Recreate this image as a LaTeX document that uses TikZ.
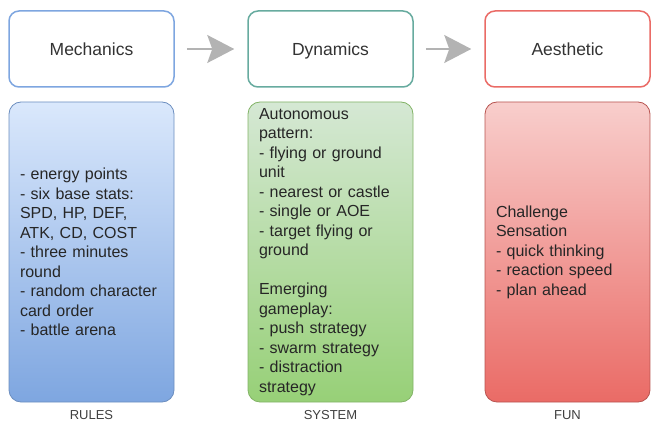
\documentclass[tikz,border=0pt]{standalone}
\usepackage{fontspec}
\setmainfont{Liberation Sans}
\usepackage{xcolor}
\usepackage{tikz}
\usetikzlibrary{arrows.meta,positioning}

\definecolor{mechline}{HTML}{7EA6E0}
\definecolor{dynline}{HTML}{67AB9F}
\definecolor{aesline}{HTML}{EA6B66}
\definecolor{flowgray}{HTML}{B3B3B3}

\begin{document}
\begin{tikzpicture}[x=1pt,y=-1pt,
  titlebox/.style={draw,line width=1.5pt,rounded corners=10pt,fill=white,
    minimum width=165pt,minimum height=76pt,text height=12.5pt,text depth=0pt,
    font=\fontsize{17.5}{21}\selectfont,text=black!80},
  listbox/.style={draw,line width=0.8pt,rounded corners=12pt,minimum width=165pt,
    minimum height=300pt,text width=143pt,inner xsep=11pt,inner ysep=2pt,align=left,
    font=\fontsize{16}{19.5}\selectfont,text=black!85},
  boxlabel/.style={below=8pt of #1,inner sep=0pt,font=\fontsize{13}{15}\selectfont,text=black!75},
  flow/.style={line width=1.5pt,draw=flowgray,
    -{Stealth[length=27pt,width=28pt,inset=5pt,fill=flowgray]},shorten <=12pt,shorten >=13pt}]
  \useasboundingbox (0,0) rectangle (651,422);

  % top row
  \node[titlebox,draw=mechline] (mech) at (91.5,49) {Mechanics};
  \node[titlebox,draw=dynline] (dyn) at (330.5,49) {Dynamics};
  \node[titlebox,draw=aesline] (aes) at (567.5,49) {Aesthetic};

  \draw[flow] (mech.east) -- (dyn.west);
  \draw[flow] (dyn.east) -- (aes.west);

  % lists
  \node[listbox,draw={rgb,255:red,108;green,142;blue,191},top color={rgb,255:red,218;green,232;blue,252},
    bottom color={rgb,255:red,126;green,166;blue,224}] (rules) at (91.5,252)
    {- energy points\\- six base stats:\\SPD, HP, DEF,\\ATK, CD, COST\\- three minutes\\round\\
     - random character\\card order\\- battle arena};
  \node[listbox,draw={rgb,255:red,130;green,179;blue,102},top color={rgb,255:red,213;green,232;blue,212},
    bottom color={rgb,255:red,151;green,208;blue,119}] (system) at (330.5,252)
    {Autonomous\\pattern:\\- flying or ground\\unit\\- nearest or castle\\- single or AOE\\
     - target flying or\\ground\\[19.5pt]Emerging\\gameplay:\\- push strategy\\
     - swarm strategy\\- distraction\\strategy};
  \node[listbox,draw={rgb,255:red,184;green,84;blue,80},top color={rgb,255:red,248;green,206;blue,204},
    bottom color={rgb,255:red,234;green,107;blue,102}] (fun) at (567.5,252)
    {Challenge\\Sensation\\- quick thinking\\- reaction speed\\- plan ahead};

  \node[boxlabel=rules] (rulestag) {RULES};
  \node[boxlabel=system] (systemtag) {SYSTEM};
  \node[boxlabel=fun] (funtag) {FUN};
\end{tikzpicture}
\end{document}
